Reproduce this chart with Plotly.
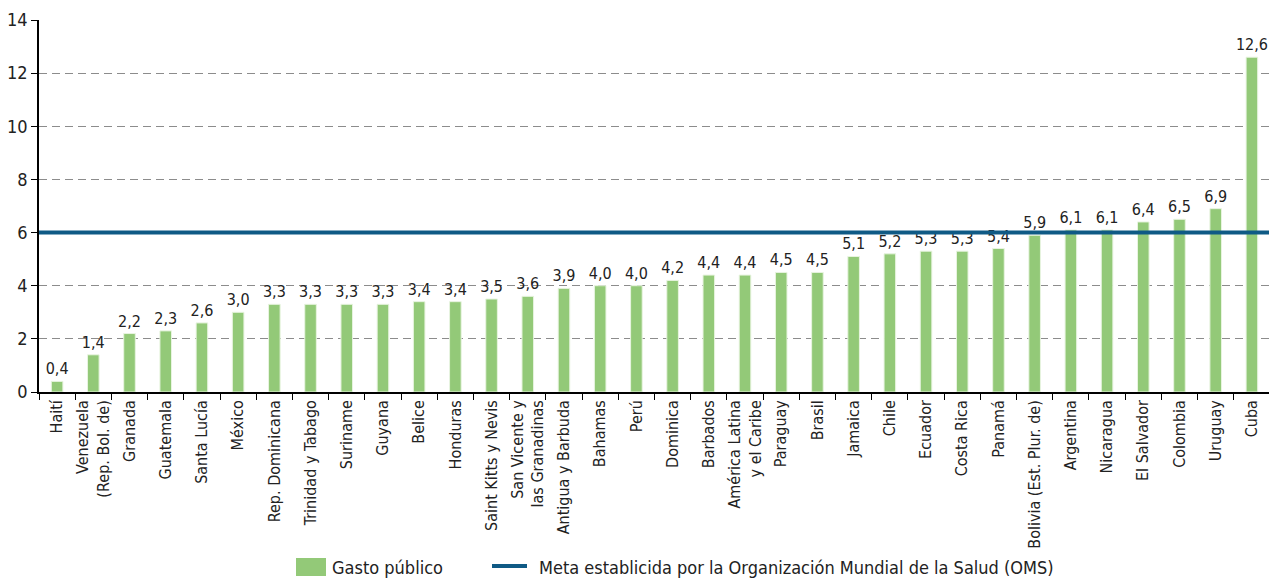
import plotly.graph_objects as go

countries = ["Haití", "Venezuela<br>(Rep. Bol. de)", "Granada", "Guatemala", "Santa Lucía", "México",
             "Rep. Dominicana", "Trinidad y Tabago", "Suriname", "Guyana", "Belice", "Honduras",
             "Saint Kitts y Nevis", "San Vicente y<br>las Granadinas", "Antigua y Barbuda", "Bahamas",
             "Perú", "Dominica", "Barbados", "América Latina<br>y el Caribe", "Paraguay", "Brasil",
             "Jamaica", "Chile", "Ecuador", "Costa Rica", "Panamá", "Bolivia (Est. Plur. de)",
             "Argentina", "Nicaragua", "El Salvador", "Colombia", "Uruguay", "Cuba"]
gasto = [0.4, 1.4, 2.2, 2.3, 2.6, 3.0, 3.3, 3.3, 3.3, 3.3, 3.4, 3.4, 3.5, 3.6, 3.9, 4.0, 4.0, 4.2,
         4.4, 4.4, 4.5, 4.5, 5.1, 5.2, 5.3, 5.3, 5.4, 5.9, 6.1, 6.1, 6.4, 6.5, 6.9, 12.6]
meta = 6
y_ticks = [0, 2, 4, 6, 8, 10, 12, 14]
legend_names = ["Gasto público", "Meta establicida por la Organización Mundial de la Salud (OMS)"]

FONT = "DejaVu Sans Condensed, Liberation Sans Narrow, Arial Narrow, sans-serif"
BAR = "#93c978"
LINE = "#0f5a85"
TXT = "#222222"

# page body has an 8px margin: figure occupies (8..1277, 8..580)
W, H = 1269, 572
ML, MR, MT, MB = 31, 7, 12, 188

fig = go.Figure()
fig.add_trace(go.Bar(
    x=countries, y=gasto, name=legend_names[0],
    marker=dict(color=BAR, line=dict(color="#e8f4e0", width=1)),
    width=0.32,
    texttemplate="%{y:.1f}", textposition="outside", cliponaxis=False, constraintext="none",
    textfont=dict(size=16, color=TXT, family=FONT),
    showlegend=False,
))
fig.add_shape(type="line", xref="x", yref="y", x0=-0.5, x1=len(countries) - 0.4, y0=meta, y1=meta,
              line=dict(color=LINE, width=4), layer="above")

# custom legend, positions given in screen pixels converted to paper coords
PW = W - ML - MR
PH = H - MT - MB
def px_x(p):
    return (p - 8 - ML) / PW
def px_y(p):
    return (H - MB - (p - 8)) / PH

fig.add_shape(type="rect", xref="paper", yref="paper", x0=px_x(296), x1=px_x(326), y0=px_y(576), y1=px_y(558),
              fillcolor=BAR, line=dict(width=0))
fig.add_annotation(xref="paper", yref="paper", x=px_x(330), y=px_y(567), text=legend_names[0],
                   showarrow=False, xanchor="left", yanchor="middle", font=dict(size=18, family=FONT, color=TXT))
fig.add_shape(type="line", xref="paper", yref="paper", x0=px_x(492), x1=px_x(527), y0=px_y(566), y1=px_y(566),
              line=dict(color=LINE, width=4))
fig.add_annotation(xref="paper", yref="paper", x=px_x(537), y=px_y(567), text=legend_names[1],
                   showarrow=False, xanchor="left", yanchor="middle", font=dict(size=18, family=FONT, color=TXT))

fig.update_layout(
    width=W, height=H,
    margin=dict(l=ML, r=MR, t=MT, b=MB),
    plot_bgcolor="white", paper_bgcolor="white",
    separators=",.",
    showlegend=False,
    font=dict(family=FONT, color=TXT),
)
fig.update_xaxes(
    tickangle=-90, tickfont=dict(size=16, family=FONT, color=TXT),
    showline=True, linecolor="#000", linewidth=1.5,
    ticks="outside", tickson="boundaries", ticklen=6, tickcolor="#000",
    showgrid=False, range=[-0.5, len(countries) - 0.5], automargin=False,
)
fig.update_yaxes(
    range=[0, 14], tickvals=y_ticks, tickfont=dict(size=18, family=FONT, color=TXT),
    showline=True, linecolor="#000", linewidth=1.5,
    ticks="outside", ticklen=6, tickcolor="#000",
    showgrid=True, gridcolor="#8c8c8c", griddash="8px,5px", gridwidth=1,
    zeroline=False, automargin=False,
)
fig.write_html("out.html")
